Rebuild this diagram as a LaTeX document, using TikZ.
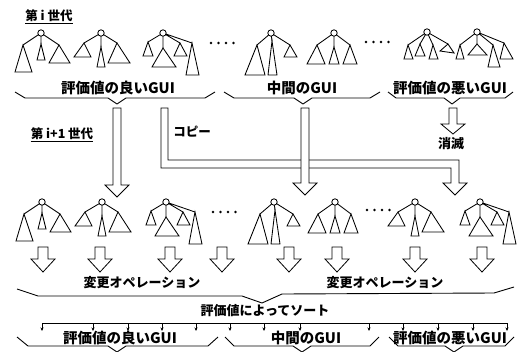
\documentclass[tikz,border=0pt]{standalone}
\usepackage{fontspec}
\setmainfont{Noto Sans CJK JP}
\usetikzlibrary{arrows.meta}
\newcommand\hollowdown[6]{\draw[hol] ({#1-#5},#2) -- ({#1-#5},#3) -- ({#1-#6},#3) -- (#1,#4) -- ({#1+#6},#3) -- ({#1+#5},#3) -- ({#1+#5},#2) -- cycle;}
\newcommand\dotrow[2]{\foreach \i in {0,...,3} {\fill ({#1+\i*7.5},#2) circle (1.3);}}
\tikzset{
  tr/.style={line width=0.85pt, line join=miter},
  hol/.style={draw, fill=white, line width=0.8pt},
  brc/.style={line width=0.9pt, line join=round},
  uline/.style={line width=0.9pt},
  lbl/.style={font=\bfseries\fontsize{14.5}{14.5}\selectfont, inner sep=0pt},
  mlbl/.style={font=\bfseries\fontsize{13}{13}\selectfont, inner sep=0pt},
  slbl/.style={font=\bfseries\fontsize{12.5}{12.5}\selectfont, inner sep=0pt},
  rootc/.style={draw, fill=white, line width=0.85pt},
  treeA/.pic={
    \draw[tr] (0,0)--(-18,12) (0,0)--(0,11) (0,0)--(18,12);
    \draw[tr] (-18,12)--(-26,39)--(-9,39)--cycle;
    \draw[tr] (0,11)--(-4,27)--(4,27)--cycle;
    \draw[tr] (18,12)--(8,30)--(29,30)--cycle;
    \draw[rootc] (0,0) circle (3.2);
  },
  treeB/.pic={
    \draw[tr] (0,0)--(-17,10) (0,0)--(0,14) (0,0)--(16,10);
    \draw[tr] (-17,10)--(-27,24)--(-10,24)--cycle;
    \draw[tr] (0,14)--(-4,34)--(4,34)--cycle;
    \draw[tr] (16,10)--(7,30)--(29,30)--cycle;
    \draw[rootc] (0,0) circle (3.2);
  },
  treeC/.pic={
    \draw[tr] (0,0)--(-15,9) (0,0)--(0,15) (0,0)--(17,10) (0,0)--(29,10);
    \draw[tr] (-15,9)--(-20,23)--(-10,23)--cycle;
    \draw[tr] (0,15)--(-11,34)--(13,34)--cycle;
    \draw[tr] (17,10)--(11,23)--(24,23)--cycle;
    \draw[tr] (29,10)--(23,42)--(36,42)--cycle;
    \draw[rootc] (0,0) circle (3.2);
  },
  treeD/.pic={
    \draw[tr] (0,0)--(-14,12) (0,0)--(1,8) (0,0)--(19,12);
    \draw[tr] (-14,12)--(-26,42)--(-6,42)--cycle;
    \draw[tr] (1,8)--(-3,42)--(6,42)--cycle;
    \draw[tr] (19,12)--(13,24)--(26,24)--cycle;
    \draw[rootc] (0,0) circle (3.2);
  },
  treeE/.pic={
    \draw[tr] (0,0)--(-17,12) (0,0)--(0,14) (0,0)--(16,12);
    \draw[tr] (-17,12)--(-27,31)--(-9,31)--cycle;
    \draw[tr] (0,14)--(-5,31)--(5,31)--cycle;
    \draw[tr] (16,12)--(9,31)--(23,31)--cycle;
    \draw[rootc] (0,0) circle (3.2);
  },
  treeF/.pic={
    \draw[tr] (0,0)--(-19,13) (0,0)--(-7,12) (0,0)--(6,13) (0,0)--(21,12);
    \draw[tr] (-19,13)--(-23,27)--(-14,27)--cycle;
    \draw[tr] (-7,12)--(-12,24)--(-2,24)--cycle;
    \draw[tr] (6,13)--(2,27)--(11,27)--cycle;
    \draw[tr] (21,12)--(13,19)--(27,21)--cycle;
    \draw[rootc] (0,0) circle (3.2);
  },
  treeG/.pic={
    \draw[tr] (0,0)--(-17,13) (0,0)--(0,12) (0,0)--(16,13) (0,0)--(27,11);
    \draw[tr] (-17,13)--(-21,27)--(-13,27)--cycle;
    \draw[tr] (0,12)--(-9,23)--(10,23)--cycle;
    \draw[tr] (16,13)--(11,35)--(23,35)--cycle;
    \draw[tr] (27,11)--(23,27)--(36,27)--cycle;
    \draw[rootc] (0,0) circle (3.2);
  },
}
\begin{document}
\begin{tikzpicture}[x=1pt,y=-1pt]
\useasboundingbox[fill=white] (0,0) rectangle (524,351);

% generation labels
\node[slbl] (geni) at (49,16) {第 i 世代};
\draw[uline] ([yshift=-1.5pt]geni.south west) -- ([yshift=-1.5pt]geni.south east);
\node[slbl] (genj) at (62,134) {第 i+1 世代};
\draw[uline] ([yshift=-1.5pt]genj.south west) -- ([yshift=-1.5pt]genj.south east);

% top row trees
\pic at (41,33) {treeA};
\pic at (101,33) {treeB};
\pic at (163,33) {treeC};
\dotrow{211}{43}
\pic at (271,33) {treeD};
\pic at (334,33) {treeE};
\dotrow{366}{42}
\pic at (427,32) {treeF};
\pic at (477,32) {treeG};

% top group labels and braces
\node[lbl] (good1) at (118,88) {評価値の良いGUI};
\node[lbl] (mid1) at (302,88) {中間のGUI};
\node[lbl] (bad1) at (450,88) {評価値の悪いGUI};
\draw[brc] (15,92)--(25,98)--(108,98)--(117,104)--(126,98)--(205,98)--(215,92);
\draw[brc] (224,92)--(234,98)--(294,98)--(303,104)--(312,98)--(370,98)--(380,92);
\draw[brc] (388,92)--(396,98)--(444,98)--(452,104)--(460,98)--(505,98)--(513,92);

% big arrows
\hollowdown{117}{108}{185}{197}{4}{12}
\draw[hol] (161,108) -- (161,168) -- (451,168) -- (451,183) -- (443,183) -- (455,195) -- (467,183) -- (459,183) -- (459,160) -- (168,160) -- (168,108) -- cycle;
\hollowdown{305}{108}{183}{195}{4}{12}
\hollowdown{453}{108}{124}{134}{4}{12}
\node[slbl] (copy) at (192,132) {コピー};
\node[mlbl] (vanish) at (451,144) {消滅};

% second row trees
\pic at (42,202) {treeA};
\pic at (102,202) {treeB};
\pic at (166,202) {treeC};
\dotrow{213}{212}
\pic at (274,202) {treeD};
\pic at (335,202) {treeE};
\dotrow{367}{210}
\pic at (415,202) {treeB};
\pic at (480,202) {treeC};

% small arrows
\foreach \ax in {43,100,170,222,289,337,415,482}
  {\hollowdown{\ax}{247}{259}{272}{5}{12}}

\node[mlbl] (op1) at (142,283) {変更オペレーション};
\node[mlbl] (op2) at (385,283) {変更オペレーション};
\draw[brc] (17,289)--(38,296)--(242,296)--(262,303)--(282,294)--(494,293)--(514,287);
\node[mlbl] (sort) at (265,311) {評価値によってソート};

% sort line with ticks
\draw[line width=0.8pt] (42,323) -- (507,323);
\foreach \tx in {42,93,128,162,196,230,264,300,369,403,438,473,507}
  {\draw[line width=0.7pt,-{Stealth[length=3.5pt,width=3pt]}] (\tx,323) -- (\tx,331);}

% bottom labels and braces
\node[lbl] (good2) at (120,338) {評価値の良いGUI};
\node[lbl] (mid2) at (306,338) {中間のGUI};
\node[lbl] (bad2) at (450,338) {評価値の悪いGUI};
\draw[brc] (17,337)--(28,346)--(108,346)--(117,352)--(126,346)--(208,346)--(218,337);
\draw[brc] (225,337)--(234,346)--(293,346)--(302,352)--(311,346)--(370,346)--(379,337);
\draw[brc] (389,337)--(398,346)--(445,346)--(454,352)--(463,346)--(505,346)--(514,337);
\end{tikzpicture}
\end{document}
